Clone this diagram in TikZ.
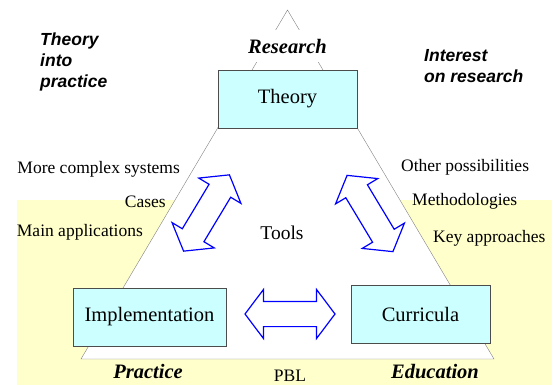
\documentclass[tikz,border=0pt]{standalone}
\usepackage{fontspec}
\setmainfont{Liberation Serif}
\setsansfont{Liberation Sans}
\usetikzlibrary{positioning, shapes.arrows}
\definecolor{boxcyan}{HTML}{CCFFFF}
\definecolor{paleyellow}{HTML}{FFFFCC}
\definecolor{edgegray}{HTML}{808080}

\begin{document}
\begin{tikzpicture}[x=1pt, y=-1pt,
   box/.style={draw=black!70, fill=boxcyan, minimum height=58pt, inner sep=0pt,
               font=\fontsize{20.5}{24}\selectfont},
   corner/.style={font=\fontsize{20.5}{24}\selectfont\bfseries\itshape},
   side/.style={font=\fontsize{17.5}{21}\selectfont, inner sep=0pt},
   motto/.style={font=\fontsize{17.5}{21}\selectfont\sffamily\bfseries\itshape,
                 align=left, inner sep=0pt},
   flow/.style={double arrow, draw=blue, line width=1.2pt, fill=white,
                minimum height=89pt, inner xsep=0pt, inner ysep=12pt,
                double arrow head extend=12pt, double arrow tip angle=106}]
   \useasboundingbox (0,0) rectangle (554,385);
   \fill[paleyellow] (17,200) rectangle (552,385);

   % the triangle
   \coordinate (top) at (287.5,10);
   \coordinate (base_l) at (81,359);
   \coordinate (base_r) at (494,359);
   \draw[edgegray, fill=white] (top) -- (base_l) -- (base_r) -- cycle;

   \node[fill=white, minimum height=32pt, inner xsep=2pt, corner] (research) at (287.5,46) {Research};

   \node[box, minimum width=139pt] (theory) at (287.5,99) {Theory};
   \node[box, minimum width=153pt] (impl) at (149.5,317) {Implementation};
   \node[box, minimum width=139pt] (curr) at (420.5,314) {Curricula};

   \node[corner] (practice) at (148,371) {Practice};
   \node[corner] (education) at (435,372) {Education};
   \node[side] (pbl) at (290,376) {PBL};
   \node[side, font=\fontsize{19.5}{23}\selectfont] (tools) at (282,233) {Tools};

   % labels along the sides
   \node[side, anchor=east] (complex) at (180,169) {More complex systems};
   \node[side, anchor=east] (cases) at (166,202) {Cases};
   \node[side, anchor=east] (mainapp) at (143,232) {Main applications};
   \node[side, anchor=west] (other) at (401,167) {Other possibilities};
   \node[side, anchor=west] (method) at (412,201) {Methodologies};
   \node[side, anchor=west] (keyapp) at (433,238) {Key approaches};

   \node[motto, anchor=west] (intoprac) at (40,62) {Theory\\into\\practice};
   \node[motto, anchor=west] (interest) at (424,66) {Interest\\on research};

   % double arrows
   \node[flow, rotate=59] (flow_1) at (206.5,213) {};
   \node[flow, rotate=-59] (flow_2) at (370,213.5) {};
   \node[flow, minimum height=90pt] (flow_3) at (290,314) {};
\end{tikzpicture}
\end{document}
